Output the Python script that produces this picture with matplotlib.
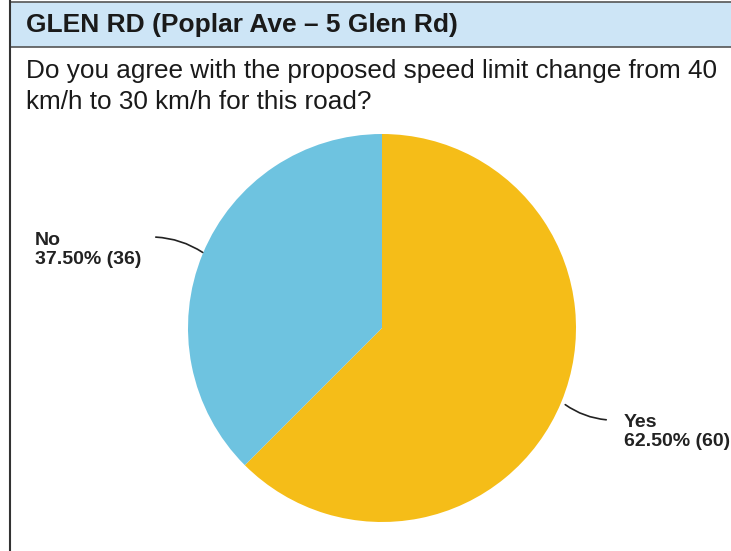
import matplotlib.pyplot as plt
from matplotlib.patches import Rectangle

plt.rcParams["font.family"] = ["Liberation Sans", "DejaVu Sans"]

# data
labels = ["Yes", "No"]
counts = [60, 36]
percents = [62.50, 37.50]
colors = ["#f5bd18", "#6ec3e0"]

title = "GLEN RD (Poplar Ave \u2013 5 Glen Rd)"
question = "Do you agree with the proposed speed limit change from 40\nkm/h to 30 km/h for this road?"

W, H = 731, 551
fig = plt.figure(figsize=(W / 100, H / 100), dpi=100)
ax = fig.add_axes([0, 0, 1, 1])


def py(y):
    # pixel row (from top) -> data y
    return H - y


# pie
ax.pie(counts, colors=colors, startangle=90, counterclock=False,
       center=(382, py(328)), radius=194, frame=True,
       wedgeprops=dict(linewidth=0))
ax.set_xlim(0, W)
ax.set_ylim(0, H)
ax.set_aspect("equal")
ax.axis("off")

# table header band and borders
ax.add_patch(Rectangle((10, py(47)), W - 10, 45, facecolor="#cde5f6", edgecolor="none"))
ax.plot([10, W], [py(2), py(2)], color="#555555", lw=1.2)
ax.plot([10, W], [py(47), py(47)], color="#555555", lw=1.2)
ax.plot([10, 10], [0, H], color="#333333", lw=1.5)

ax.text(26, py(25), title, fontsize=19, fontweight="bold", color="#1a1a1a",
        va="center", ha="left")
ax.text(26, py(59), question, fontsize=18.8, color="#1a1a1a", va="top",
        ha="left", linespacing=1.38)

# labels with leader lines
ax.annotate("", xy=(205, py(254)), xytext=(153, py(237)),
            arrowprops=dict(arrowstyle="-", color="#222222", lw=1.2,
                            connectionstyle="arc3,rad=-0.15"))
ax.text(35, py(232), f"{labels[1]}\n{percents[1]:.2f}% ({counts[1]})",
        fontsize=14, fontweight="bold", color="#222222", va="top", ha="left",
        linespacing=1.15)

ax.annotate("", xy=(563, py(403)), xytext=(609, py(420)),
            arrowprops=dict(arrowstyle="-", color="#222222", lw=1.2,
                            connectionstyle="arc3,rad=-0.15"))
ax.text(624, py(414), f"{labels[0]}\n{percents[0]:.2f}% ({counts[0]})",
        fontsize=14, fontweight="bold", color="#222222", va="top", ha="left",
        linespacing=1.15)

fig.savefig("out.png", dpi=100)
